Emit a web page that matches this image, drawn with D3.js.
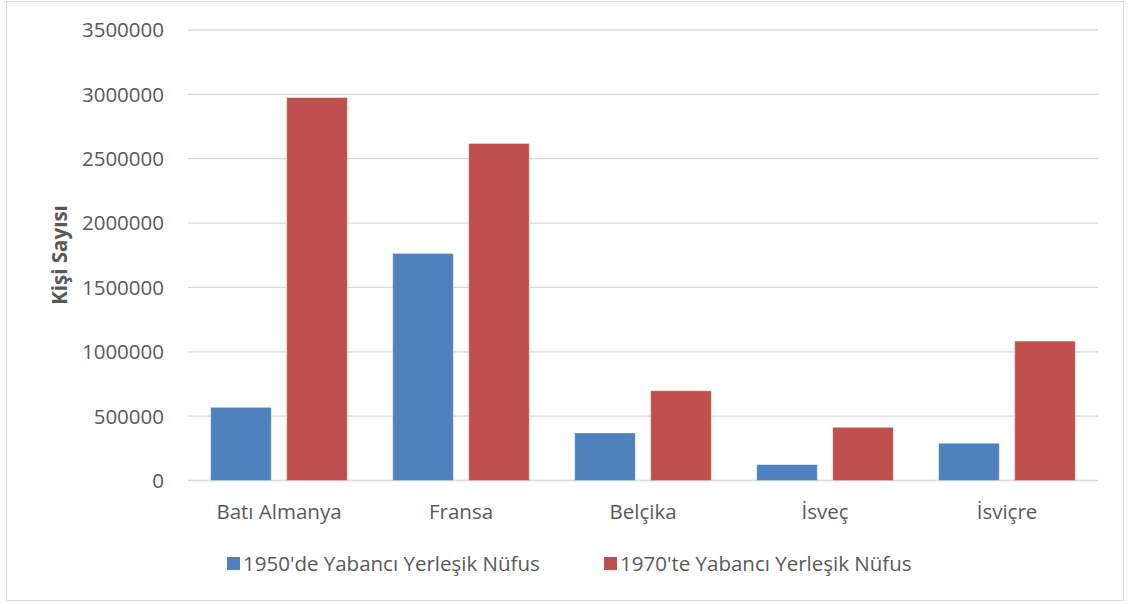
<!DOCTYPE html>
<html>
<head>
<meta charset="utf-8">
<script src="https://cdn.jsdelivr.net/npm/d3@7"></script>
<style>
  body { margin: 0; background: #fff; }
  text { font-family: "Open Sans", sans-serif; fill: #595959; }
</style>
</head>
<body>
<svg id="chart" width="1130" height="604"></svg>
<script>
// veriler
var ulkeler = ["Batı Almanya", "Fransa", "Belçika", "İsveç", "İsviçre"];
var seriler = ["1950'de Yabancı Yerleşik Nüfus", "1970'te Yabancı Yerleşik Nüfus"];
var nufus1950 = [568000, 1764000, 369000, 123000, 289000];
var nufus1970 = [2975000, 2618000, 697000, 413000, 1083000];
var yTicks = [0, 500000, 1000000, 1500000, 2000000, 2500000, 3000000, 3500000];
var renkler = ["#4F81BD", "#C0504D"];

var svg = d3.select("#chart");

// dış çerçeve
svg.append("rect")
  .attr("x", 6.5).attr("y", 1.5)
  .attr("width", 1117).attr("height", 599)
  .attr("fill", "#fff")
  .attr("stroke", "#d9d9d9");

var solX = 188, sagX = 1098, ustY = 30, altY = 480.5;

var x = d3.scaleBand().domain(ulkeler).range([solX, sagX]);
var xIc = d3.scaleBand().domain([0, 1]).range([0, x.bandwidth()])
  .paddingInner(0.204).paddingOuter(0.2993);
var y = d3.scaleLinear().domain([0, 3500000]).range([altY, ustY]);

// ızgara çizgileri
svg.append("g").selectAll("line")
  .data(yTicks)
  .enter().append("line")
  .attr("x1", solX).attr("x2", sagX)
  .attr("y1", function (d) { return y(d); })
  .attr("y2", function (d) { return y(d); })
  .attr("stroke", "#d9d9d9")
  .attr("stroke-width", 1.3);

// y ekseni etiketleri
svg.append("g").selectAll("text")
  .data(yTicks)
  .enter().append("text")
  .attr("x", 164)
  .attr("y", function (d) { return y(d); })
  .attr("dy", "0.36em")
  .attr("text-anchor", "end")
  .style("font-size", "20.5px")
  .text(function (d) { return d; });

// çubuklar
var veri = [nufus1950, nufus1970];
veri.forEach(function (seri, s) {
  svg.append("g").selectAll("rect")
    .data(seri)
    .enter().append("rect")
    .attr("x", function (d, i) { return x(ulkeler[i]) + xIc(s); })
    .attr("y", function (d) { return y(d); })
    .attr("width", xIc.bandwidth())
    .attr("height", function (d) { return y(0) - y(d); })
    .attr("fill", renkler[s])
    .attr("stroke", "#fff")
    .attr("stroke-opacity", 0.4)
    .attr("stroke-width", 0.75);
});

// x ekseni etiketleri
svg.append("g").selectAll("text")
  .data(ulkeler)
  .enter().append("text")
  .attr("x", function (d) { return x(d) + x.bandwidth() / 2; })
  .attr("y", 519)
  .attr("text-anchor", "middle")
  .style("font-size", "20.5px")
  .text(function (d) { return d; });

// eksen başlığı
svg.append("text")
  .attr("transform", "translate(67,255) rotate(-90)")
  .attr("text-anchor", "middle")
  .style("font-size", "20.5px")
  .style("font-weight", "bold")
  .text("Kişi Sayısı");

// lejant
var lejantX = [227, 604];
seriler.forEach(function (ad, s) {
  var g = svg.append("g").attr("transform", "translate(" + lejantX[s] + ",557)");
  g.append("rect").attr("width", 13).attr("height", 13).attr("fill", renkler[s]);
  g.append("text")
    .attr("x", 16).attr("y", 7)
    .attr("dy", "0.36em")
    .style("font-size", "20.5px")
    .text(ad);
});
</script>
</body>
</html>
